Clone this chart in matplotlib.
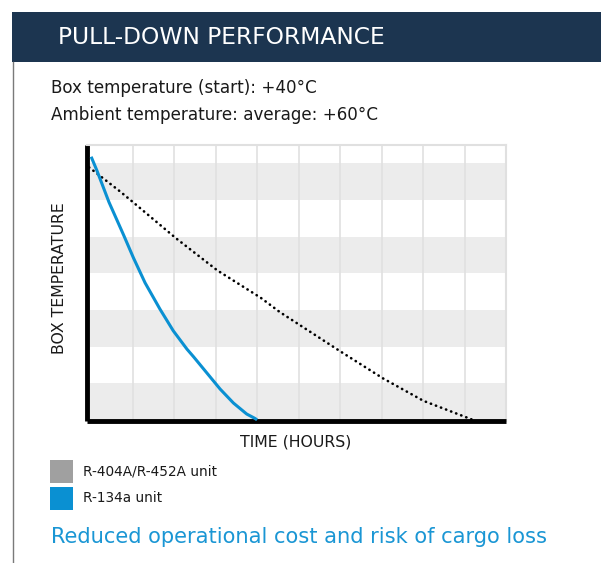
import numpy as np
import matplotlib.pyplot as plt
from matplotlib.patches import Rectangle
from matplotlib.lines import Line2D

plt.rcParams['font.family'] = ['DejaVu Sans']

# data (x = time units, y = box temperature units)
r134a_x = [0.0, 0.14, 0.43, 0.78, 1.02, 1.30, 1.66, 1.98, 2.31, 2.47, 2.79, 3.11, 3.43, 3.75, 3.95, 4.0]
r134a_y = [7.18, 6.80, 5.94, 5.05, 4.42, 3.74, 3.02, 2.43, 1.93, 1.72, 1.28, 0.84, 0.46, 0.16, 0.04, 0.0]
r404a_x = [-0.05, 0.70, 1.02, 2.04, 3.04, 4.09, 4.55, 5.04, 6.02, 7.04, 8.01, 9.09, 9.2]
r404a_y = [6.89, 6.23, 5.93, 4.96, 4.08, 3.33, 2.94, 2.58, 1.86, 1.13, 0.52, 0.05, 0.0]
band_starts = [0, 2, 4, 6]
grid_x = [1, 2, 3, 4, 5, 6, 7, 8, 9]
legend_labels = ['R-404A/R-452A unit', 'R-134a unit']
legend_colors = ['#a0a0a0', '#0a90d2']

W, H = 601, 563
fig = plt.figure(figsize=(W / 100, H / 100), dpi=100)


def fx(px):
    return px / W


def fy(py):
    return 1 - py / H


# header bar and frame line
fig.add_artist(Rectangle((fx(12), fy(62)), fx(601) - fx(12), fy(12) - fy(62),
                         transform=fig.transFigure, color='#1c3550', lw=0))
fig.add_artist(Line2D([fx(12.5), fx(12.5)], [fy(62), fy(563)],
                      transform=fig.transFigure, color='#7a7a7a', lw=1))
fig.text(fx(58), fy(37), 'PULL-DOWN PERFORMANCE', color='white',
         fontsize=16.8, va='center', ha='left')
fig.text(fx(51), fy(88), 'Box temperature (start): +40°C', color='#1a1a1a',
         fontsize=12.1, va='center')
fig.text(fx(51), fy(115), 'Ambient temperature: average: +60°C', color='#1a1a1a',
         fontsize=12.1, va='center')

# chart
ax = fig.add_axes([fx(87), fy(421), fx(506) - fx(87), fy(145) - fy(421)])
ax.set_xlim(-0.1, 10)
ax.set_ylim(-0.03, 7.5)
for b in band_starts:
    ax.axhspan(b, b + 1, color='#ececec', lw=0, zorder=0)
for g in grid_x:
    ax.axvline(g, color='#e0e0e0', lw=1.2, zorder=1)

ax.plot(r404a_x, r404a_y, color='black', lw=1.9, ls=(0, (0.1, 1.95)),
        dash_capstyle='round', zorder=3)
ax.plot(r134a_x, r134a_y, color='#0a90d2', lw=2.2, zorder=4,
        solid_joinstyle='round', solid_capstyle='butt')

ax.set_xticks([])
ax.set_yticks([])
for s in ['top', 'right']:
    ax.spines[s].set_color('#e0e0e0')
    ax.spines[s].set_linewidth(1.5)
for s in ['left', 'bottom']:
    ax.spines[s].set_color('black')
    ax.spines[s].set_linewidth(3.5)
    ax.spines[s].set_capstyle('butt')

fig.text(fx(60), fy(278), 'BOX TEMPERATURE', rotation=90, fontsize=11.3,
         ha='center', va='center', color='#1a1a1a')
fig.text(fx(296), fy(442), 'TIME (HOURS)', fontsize=11.3,
         ha='center', va='center', color='#1a1a1a')

# legend
for i, (lab, col) in enumerate(zip(legend_labels, legend_colors)):
    top = 460 + i * 26.5
    fig.add_artist(Rectangle((fx(50), fy(top + 23)), fx(23), fy(0) - fy(23),
                             transform=fig.transFigure, color=col, lw=0))
    fig.text(fx(83), fy(top + 11.5), lab, fontsize=9.8, va='center', color='#1a1a1a')

fig.text(fx(51), fy(537), 'Reduced operational cost and risk of cargo loss',
         color='#1a96d4', fontsize=15.1, va='center')

fig.savefig('out.png', dpi=100)
